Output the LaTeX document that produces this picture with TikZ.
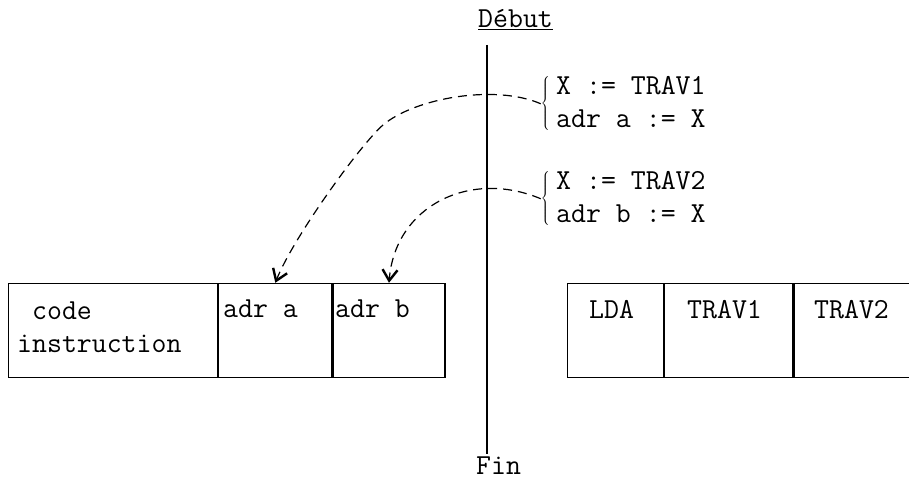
\documentclass[tikz,border=0pt]{standalone}
\usepackage{fontspec}
\usetikzlibrary{arrows.meta,positioning,calc}

\tikzset{
  cell/.style={draw, line width=1.2pt, minimum height=94pt, inner sep=0pt, anchor=south west},
  lbl/.style={font=\ttfamily\fontsize{29}{32.5}\selectfont, inner sep=0pt},
  curly/.style={font=\fontsize{26}{30}\selectfont, inner sep=0pt, anchor=east},
  link/.style={line width=1.2pt, dash pattern=on 9pt off 6pt,
    -{Straight Barb[length=11pt,width=15pt,line width=2.4pt]}},
}
\newcommand{\bracebar}{$\left\{\vcenter{\hbox{\rule{0pt}{54pt}}}\right.\nulldelimiterspace=0pt$}

\begin{document}
\begin{tikzpicture}[x=1pt,y=1pt]
\useasboundingbox (0,0) rectangle (909,481);

% time line
\coordinate (top) at (487,436);
\coordinate (bottom) at (487,27);
\draw[line width=2pt] (top) -- (bottom);
\node[lbl, anchor=base west] (debut) at (478,453) {\underline{Début}};
\node[lbl, anchor=base west] (fin) at (476,6) {Fin};

% assignments
\node[lbl, anchor=base west] (set1) at (556,386) {\begin{tabular}[t]{@{}l@{}}X := TRAV1\\adr a := X\end{tabular}};
\node[lbl, anchor=base west] (set2) at (556,291) {\begin{tabular}[t]{@{}l@{}}X := TRAV2\\adr b := X\end{tabular}};
\node[curly] (br1) at ($(set1.west)+(-6,1)$) {\bracebar};
\node[curly] (br2) at ($(set2.west)+(-6,1)$) {\bracebar};

% instruction word
\node[cell, minimum width=209pt] (code) at (8,103) {};
\node[cell, minimum width=113pt, right=0pt of code] (adra) {};
\node[cell, minimum width=112pt, right=0pt of adra] (adrb) {};
\node[lbl, anchor=base west] (codetxt) at (17,161) {\begin{tabular}[t]{@{}l@{}}\phantom{c}code\\instruction\end{tabular}};
\node[lbl, anchor=base west] (adratxt) at (223,163) {adr a};
\node[lbl, anchor=base west] (adrbtxt) at (335,163) {adr b};

% generated word
\node[cell, minimum width=96pt] (lda) at (567,103) {};
\node[cell, minimum width=128pt, right=0pt of lda] (trav1) {};
\node[cell, minimum width=124pt, right=0pt of trav1] (trav2) {};
\node[lbl, anchor=base west] (ldatxt) at (589,162) {LDA};
\node[lbl, anchor=base west] (trav1txt) at (687,162) {TRAV1};
\node[lbl, anchor=base west] (trav2txt) at (814,162) {TRAV2};

\draw[link] (br1.west) .. controls (495,397) and (415,383) .. (383,356)
  .. controls (360,336) and (293,243) .. (adra.north);
\draw[link] (br2.west) .. controls (470,312) and (395,275) .. (adrb.north);

\end{tikzpicture}
\end{document}
